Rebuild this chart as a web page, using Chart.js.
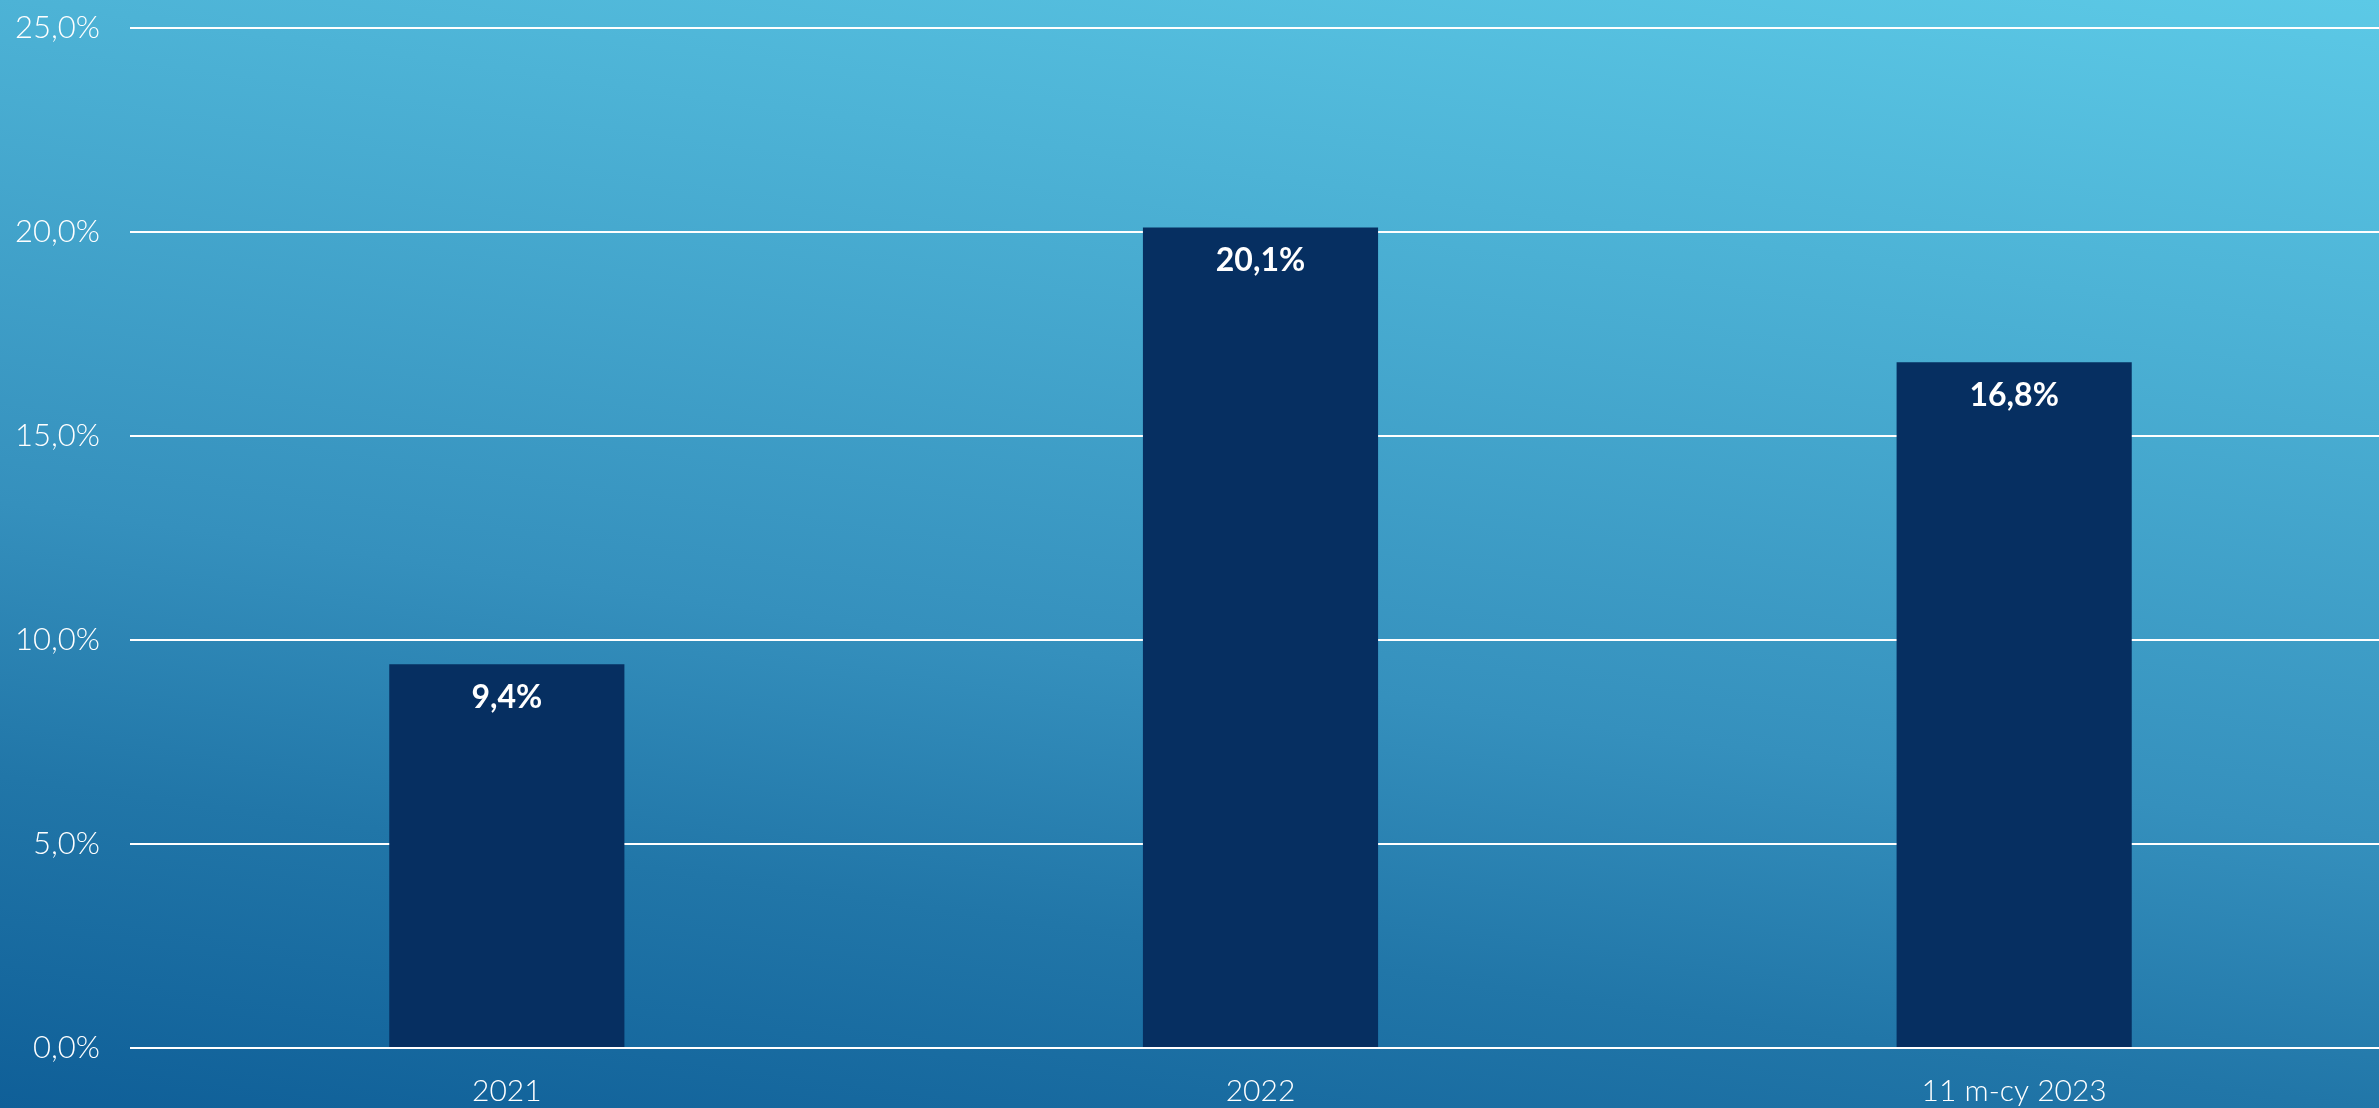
<!DOCTYPE html>
<html>
<head>
<meta charset="utf-8">
<script src="https://cdn.jsdelivr.net/npm/chart.js@4/dist/chart.umd.min.js"></script>
<style>
  html, body {
    margin: 0;
    padding: 0;
    width: 2379px;
    height: 1108px;
    overflow: hidden;
    background: linear-gradient(8deg, #0f5f98 0%, #2176a8 23%, #3590bd 42%, #4db3d6 77%, #5cc9e6 100%);
  }
  #wrap { position: absolute; left: 0; top: -21px; width: 2391px; height: 1147px; }
</style>
</head>
<body>
<div id="wrap"><canvas id="chart"></canvas></div>
<script>
// --- Data ---
const categories = ['2021', '2022', '11 m-cy 2023'];
const values = [9.4, 20.1, 16.8];
const yTicks = [0, 5, 10, 15, 20, 25];

const FONT = 'Lato, "Open Sans", sans-serif';

// Format a percentage the Polish way: 25,0%
function fmtPct(v) {
  return v.toFixed(1).replace('.', ',') + '%';
}

// Value labels inside the top of each bar
const barLabels = {
  id: 'barLabels',
  afterDatasetsDraw(chart) {
    const ctx = chart.ctx;
    const meta = chart.getDatasetMeta(0);
    ctx.save();
    ctx.fillStyle = '#ffffff';
    ctx.font = 'bold 32px ' + FONT;
    ctx.textAlign = 'center';
    ctx.textBaseline = 'middle';
    meta.data.forEach((bar, i) => {
      ctx.fillText(fmtPct(values[i]), bar.x, bar.y + 33);
    });
    ctx.restore();
  }
};

new Chart(document.getElementById('chart'), {
  type: 'bar',
  data: {
    labels: categories,
    datasets: [{
      data: values,
      backgroundColor: '#062f61',
      borderWidth: 0,
      barPercentage: 0.312,
      categoryPercentage: 1.0,
    }],
  },
  options: {
    responsive: true,
    maintainAspectRatio: false,
    animation: false,
    layout: { padding: { top: 11, right: 0, bottom: 0, left: 0 } },
    plugins: {
      legend: { display: false },
      tooltip: { enabled: false },
    },
    scales: {
      x: {
        grid: { display: false },
        border: { display: false },
        ticks: {
          color: '#ffffff',
          font: { family: FONT, size: 30, weight: '300' },
          padding: 17,
        },
      },
      y: {
        min: 0,
        max: 25,
        afterBuildTicks: (scale) => {
          scale.ticks = yTicks.map(v => ({ value: v }));
        },
        afterFit: (scale) => { scale.width = 130; },
        grid: { color: '#ffffff', lineWidth: 2, drawTicks: false },
        border: { display: false },
        ticks: {
          color: '#ffffff',
          font: { family: FONT, size: 31, weight: '300' },
          padding: 30,
          callback: (v) => fmtPct(v),
        },
      },
    },
  },
  plugins: [barLabels],
});
</script>
</body>
</html>
